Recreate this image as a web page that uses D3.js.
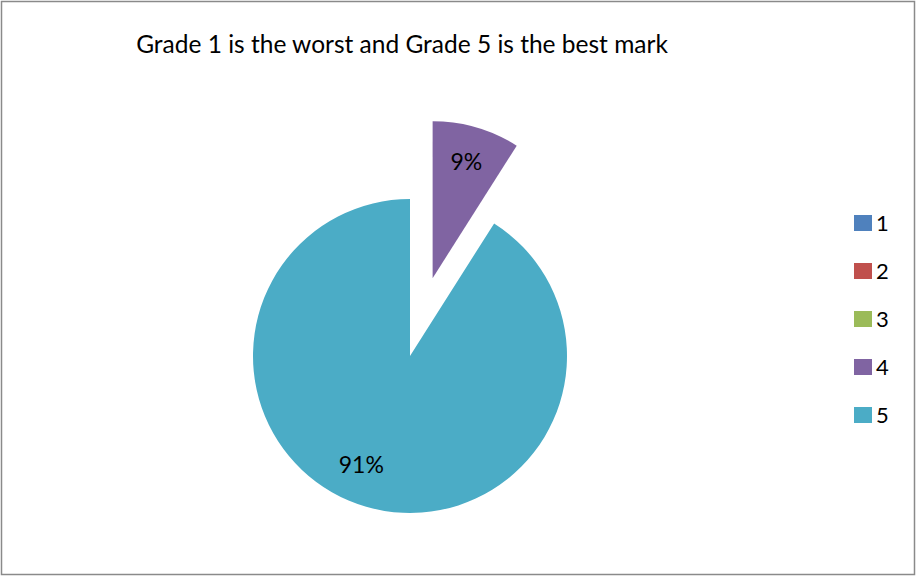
<!DOCTYPE html>
<html>
<head>
<meta charset="utf-8">
<script src="https://cdn.jsdelivr.net/npm/d3@7"></script>
<style>
  body { margin: 0; background: #fff; }
  text { font-family: Lato, "Open Sans", sans-serif; fill: #000; }
</style>
</head>
<body>
<svg id="pie"></svg>
<script>
const grades = ["1", "2", "3", "4", "5"];
const shares = [0, 0, 0, 9, 91];
const colors = ["#4F81BD", "#C0504D", "#9BBB59", "#8064A2", "#4BACC6"];
const title = "Grade 1 is the worst and Grade 5 is the best mark";

const width = 916, height = 577;
const cx = 410, cy = 356, radius = 157;
const explode = 81;

const svg = d3.select("#pie")
  .attr("width", width)
  .attr("height", height);

// frame
svg.append("rect")
  .attr("x", 1.5).attr("y", 1.5)
  .attr("width", 913).attr("height", 573)
  .attr("fill", "#fff")
  .attr("stroke", "#8a8a8a")
  .attr("stroke-width", 1.5);

svg.append("text")
  .attr("x", 402).attr("y", 53)
  .attr("text-anchor", "middle")
  .style("font-size", "24.5px")
  .text(title);

const data = grades.map((g, i) => ({ grade: g, value: shares[i], color: colors[i] }));

const pie = d3.pie().sort(null).value(d => d.value);
const arc = d3.arc().innerRadius(0).outerRadius(radius);
const labelArc = d3.arc().innerRadius(radius * 0.77).outerRadius(radius * 0.77);

const g = svg.append("g").attr("transform", `translate(${cx},${cy})`);

// only grade 4 is pulled out
const offset = d => {
  if (d.data.grade !== "4") return [0, 0];
  const a = (d.startAngle + d.endAngle) / 2;
  return [Math.sin(a) * explode, -Math.cos(a) * explode];
};

const slices = pie(data).filter(d => d.value > 0);

g.selectAll("path.slice")
  .data(slices)
  .enter()
  .append("path")
  .attr("class", "slice")
  .attr("transform", d => `translate(${offset(d)})`)
  .attr("d", arc)
  .attr("fill", d => d.data.color);

g.selectAll("text.slice-label")
  .data(slices)
  .enter()
  .append("text")
  .attr("class", "slice-label")
  .attr("transform", d => {
    const [ox, oy] = offset(d);
    const [x, y] = labelArc.centroid(d);
    // Excel nudges the big slice label a little further round
    const big = d.data.grade === "5";
    return `translate(${x + ox + (big ? -15 : 0)},${y + oy + (big ? -7 : 0)})`;
  })
  .attr("text-anchor", "middle")
  .attr("dy", "0.35em")
  .style("font-size", "23px")
  .text(d => d.data.value + "%");

// legend
const legend = svg.append("g").attr("transform", "translate(854,215)");
const row = legend.selectAll("g")
  .data(data)
  .enter()
  .append("g")
  .attr("transform", (d, i) => `translate(0,${i * 48})`);

row.append("rect")
  .attr("width", 18).attr("height", 16)
  .attr("fill", d => d.color);

row.append("text")
  .attr("x", 22).attr("y", 8)
  .attr("dy", "0.36em")
  .style("font-size", "22px")
  .text(d => d.grade);
</script>
</body>
</html>
